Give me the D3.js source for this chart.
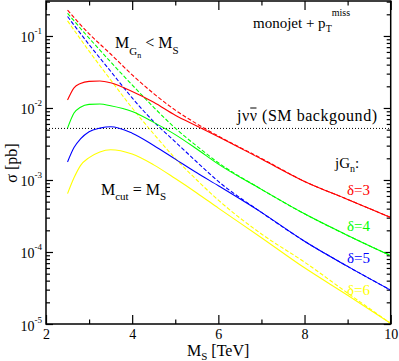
<!DOCTYPE html>
<html>
<head>
<meta charset="utf-8">
<script src="https://cdn.jsdelivr.net/npm/d3@7"></script>
<style>
  body { margin: 0; background: #fff; }
</style>
</head>
<body>
<div id="chart"></div>
<script>
// M_S grid [TeV] for the solid (M_cut = M_S) curves
const msSolid = [2.5, 2.65, 2.8, 3.0, 3.25, 3.5, 4, 4.5, 5, 5.5, 6, 7, 8, 9, 10];
// sigma [pb], solid curves
const solid3 = [0.01288, 0.01905, 0.02188, 0.02344, 0.02371, 0.02239, 0.01698, 0.01202, 0.007943, 0.005623, 0.003981, 0.00195, 0.000955, 0.000537, 0.000302];
const solid4 = [0.005248, 0.008511, 0.01023, 0.01122, 0.01135, 0.01072, 0.008913, 0.00631, 0.004266, 0.002692, 0.00166, 0.000741, 0.000339, 0.00017, 0.0000891];
const solid5 = [0.001778, 0.002818, 0.003715, 0.004677, 0.005248, 0.005495, 0.004467, 0.00302, 0.00195, 0.001259, 0.000832, 0.000355, 0.000141, 0.0000631, 0.0000295];
const solid6 = [0.000646, 0.001072, 0.001585, 0.002042, 0.002455, 0.00263, 0.002291, 0.001622, 0.001047, 0.000661, 0.000407, 0.000158, 0.0000603, 0.0000251, 0.0000102];

// M_S grid for the dashed (M_Gn < M_S) curves
const msDashed = [2.5, 3, 3.5, 4, 4.5, 5, 5.5, 6, 7, 8, 9, 10];
const dashed3 = [0.2291, 0.1072, 0.05623, 0.02884, 0.01585, 0.009333, 0.006026, 0.004074, 0.001995, 0.000955, 0.000537, 0.000302];
const dashed4 = [0.2065, 0.09333, 0.04365, 0.02089, 0.01023, 0.005248, 0.002951, 0.001738, 0.000741, 0.000339, 0.00017, 0.0000891];
const dashed5 = [0.1862, 0.07586, 0.03236, 0.0138, 0.006457, 0.003388, 0.001778, 0.000955, 0.000355, 0.000141, 0.0000631, 0.0000295];
const dashed6 = [0.1622, 0.06166, 0.02455, 0.01, 0.004365, 0.001995, 0.001, 0.000525, 0.000178, 0.0000724, 0.0000269, 0.0000102];

// SM background level (j nu nubar)
const smBackground = 0.0052;

const deltas = ['δ=3', 'δ=4', 'δ=5', 'δ=6'];
const colors = ['#ff0000', '#00ff00', '#0000ff', '#ffff00'];
const xMajor = [2, 4, 6, 8, 10];
const xMinor = [3, 5, 7, 9];
const yMajorExp = [-5, -4, -3, -2, -1];

const FONT = '"Liberation Serif", "DejaVu Serif", "Times New Roman", serif';
const width = 399, height = 361;
const plot = { left: 46, right: 390.7, top: 1, bottom: 324 };

const svg = d3.select('#chart').append('svg')
  .attr('width', width)
  .attr('height', height)
  .style('font-family', FONT);

const x = d3.scaleLinear().domain([2, 10]).range([plot.left, plot.right]);
const y = d3.scaleLog().domain([1e-5, 0.306]).range([plot.bottom, plot.top]);

svg.append('clipPath').attr('id', 'clip')
  .append('rect')
  .attr('x', plot.left).attr('y', plot.top)
  .attr('width', plot.right - plot.left).attr('height', plot.bottom - plot.top);

const yMinor = [];
yMajorExp.forEach(e => { for (let k = 2; k <= 9; k++) yMinor.push(k * Math.pow(10, e)); });
const yMinorIn = yMinor.filter(v => v <= 0.306);
const yMajor = yMajorExp.map(e => Math.pow(10, e));

// axes (ticks point inward, domain lines replaced by the frame)
function drawAxis(axis, tx, ty) {
  const g = svg.append('g').attr('transform', `translate(${tx},${ty})`).call(axis);
  g.attr('font-family', null);
  g.select('.domain').remove();
  g.selectAll('line').attr('stroke', '#000').attr('stroke-width', 1.2);
  return g;
}

const xBottom = drawAxis(d3.axisBottom(x).tickValues(xMajor).tickSize(-9).tickPadding(5).tickFormat(d3.format('d')), 0, plot.bottom);
xBottom.selectAll('text').attr('font-size', 14).attr('fill', '#000').style('font-family', FONT);
drawAxis(d3.axisBottom(x).tickValues(xMinor).tickSize(-4.5).tickFormat(''), 0, plot.bottom);
drawAxis(d3.axisTop(x).tickValues(xMajor).tickSize(-9).tickFormat(''), 0, plot.top);
drawAxis(d3.axisTop(x).tickValues(xMinor).tickSize(-4.5).tickFormat(''), 0, plot.top);

drawAxis(d3.axisLeft(y).tickValues(yMajor).tickSize(-7).tickFormat(''), plot.left, 0);
drawAxis(d3.axisLeft(y).tickValues(yMinorIn).tickSize(-4).tickFormat(''), plot.left, 0);
drawAxis(d3.axisRight(y).tickValues(yMajor).tickSize(-7).tickFormat(''), plot.right, 0);
drawAxis(d3.axisRight(y).tickValues(yMinorIn).tickSize(-4).tickFormat(''), plot.right, 0);

// y tick labels 10^n
yMajorExp.forEach(e => {
  const t = svg.append('text')
    .attr('x', 42)
    .attr('y', y(Math.pow(10, e)) + 6.5)
    .attr('text-anchor', 'end')
    .attr('font-size', 14)
    .style('font-family', FONT);
  t.append('tspan').text('10');
  t.append('tspan').attr('font-size', 9).attr('dy', -8).text(e);
});

// SM background dotted line
svg.append('line')
  .attr('x1', plot.left).attr('x2', plot.right)
  .attr('y1', y(smBackground)).attr('y2', y(smBackground))
  .attr('stroke', '#000').attr('stroke-width', 1)
  .attr('stroke-dasharray', '1,2');

const line = d3.line()
  .x(d => x(d[0]))
  .y(d => y(d[1]))
  .curve(d3.curveMonotoneX);

const curves = svg.append('g').attr('clip-path', 'url(#clip)');
const dashedSets = [dashed3, dashed4, dashed5, dashed6];
const solidSets = [solid3, solid4, solid5, solid6];

dashedSets.forEach((vals, i) => {
  curves.append('path')
    .datum(msDashed.map((m, j) => [m, vals[j]]))
    .attr('d', line)
    .attr('fill', 'none')
    .attr('stroke', colors[i])
    .attr('stroke-width', 1.1)
    .attr('stroke-dasharray', '4,2');
});
solidSets.forEach((vals, i) => {
  curves.append('path')
    .datum(msSolid.map((m, j) => [m, vals[j]]))
    .attr('d', line)
    .attr('fill', 'none')
    .attr('stroke', colors[i])
    .attr('stroke-width', 1.1);
});

// frame
svg.append('rect')
  .attr('x', plot.left).attr('y', plot.top)
  .attr('width', plot.right - plot.left).attr('height', plot.bottom - plot.top)
  .attr('fill', 'none').attr('stroke', '#000').attr('stroke-width', 1.5);

// annotations
function addText(xp, yp, size, parts, color) {
  const t = svg.append('text').attr('x', xp).attr('y', yp)
    .attr('font-size', size).attr('fill', color || '#000')
    .style('font-family', FONT);
  let shift = 0;
  parts.forEach(p => {
    const s = t.append('tspan').text(p.t);
    if (p.size) s.attr('font-size', p.size);
    const target = p.dy || 0;
    if (target !== shift) { s.attr('dy', target - shift); shift = target; }
  });
  return t;
}

addText(253, 28, 15, [
  { t: 'monojet + p' },
  { t: 'T', size: 10, dy: 4 },
  { t: 'miss', size: 10, dy: -12 }
]);

addText(115, 48, 16, [
  { t: 'M' },
  { t: 'G', size: 11, dy: 7 },
  { t: 'n', size: 8, dy: 10 },
  { t: ' < M', dy: 0 },
  { t: 'S', size: 11, dy: 6 }
]);

const bg = addText(237, 121, 16, [{ t: 'jνν (SM backgound)' }])
  .attr('textLength', 140)
  .attr('lengthAdjust', 'spacing');
{
  const n = bg.node();
  const a = n.getStartPositionOfChar(2).x;
  const b = n.getEndPositionOfChar(2).x;
  svg.append('line').attr('x1', a + 0.5).attr('x2', b - 0.5)
    .attr('y1', 108).attr('y2', 108)
    .attr('stroke', '#000').attr('stroke-width', 1);
}

addText(101, 195, 16, [
  { t: 'M' },
  { t: 'cut', size: 11, dy: 5 },
  { t: ' = M', dy: 0 },
  { t: 'S', size: 11, dy: 5 }
]);

addText(335, 168, 15, [
  { t: 'jG' },
  { t: 'n', size: 10, dy: 4 },
  { t: ':', dy: 0 }
]);

const deltaY = [195, 231, 263, 295];
deltas.forEach((d, i) => {
  addText(347, deltaY[i], 15, [{ t: d }], colors[i]);
});

// axis titles
addText(187, 356, 16, [
  { t: 'M' },
  { t: 'S', size: 11, dy: 4 },
  { t: ' [TeV]', dy: 0 }
]);

svg.append('text')
  .attr('transform', 'translate(17,163) rotate(-90)')
  .attr('text-anchor', 'middle')
  .attr('font-size', 16)
  .style('font-family', FONT)
  .text('σ [pb]');
</script>
</body>
</html>
